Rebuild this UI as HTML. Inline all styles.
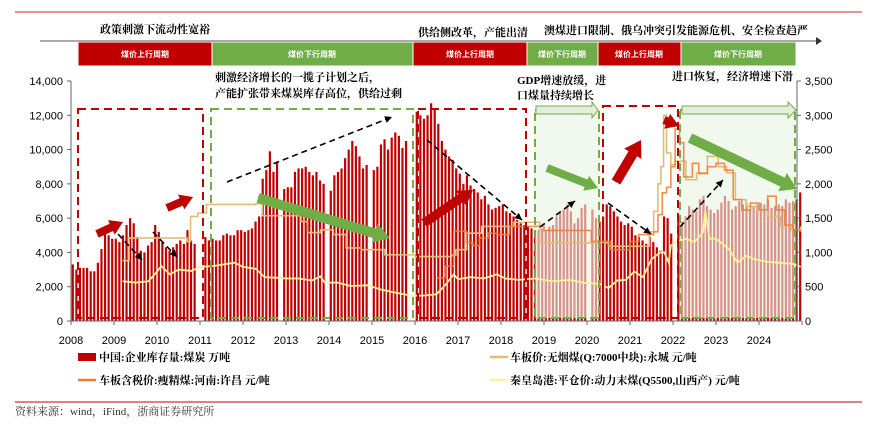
<!DOCTYPE html>
<html><head><meta charset="utf-8"><style>
body{margin:0;background:#fff;}
svg text{font-family:"Liberation Sans","Noto Sans CJK SC",sans-serif;}
.cn{font-family:"Liberation Serif","Noto Serif CJK SC",serif;font-weight:bold;font-size:11px;fill:#000;}
.tk{font-size:11px;fill:#000;}
</style></head><body>
<svg id="chart" width="870" height="419" viewBox="0 0 870 419" xmlns="http://www.w3.org/2000/svg">
<line x1="15" y1="12" x2="862" y2="12" stroke="#E05050" stroke-width="1.2"/>
<g>
<line x1="40" y1="41" x2="816" y2="41" stroke="#555" stroke-width="1"/>
<polygon points="816,37 822,41 816,45" fill="#333"/>
<rect x="78" y="42" width="134" height="24" fill="#C00000" stroke="#fff"/>
<rect x="212" y="42" width="201" height="24" fill="#70AD47" stroke="#fff"/>
<rect x="413" y="42" width="114" height="24" fill="#C00000" stroke="#fff"/>
<rect x="527" y="42" width="71" height="24" fill="#70AD47" stroke="#fff"/>
<rect x="598" y="42" width="83" height="24" fill="#C00000" stroke="#fff"/>
<rect x="681" y="42" width="115" height="24" fill="#70AD47" stroke="#fff"/>
<g font-size="8" fill="#fff" text-anchor="middle" font-weight="bold">
<text x="145" y="57">煤价上行周期</text><text x="312" y="57">煤价下行周期</text><text x="470" y="57">煤价上行周期</text><text x="562" y="57">煤价下行周期</text><text x="639" y="57">煤价上行周期</text><text x="738" y="57">煤价下行周期</text>
</g>
<text class="cn" x="100" y="33">政策刺激下流动性宽裕</text>
<text class="cn" x="418" y="36">供给侧改革，产能出清</text>
<text class="cn" x="544" y="34">澳煤进口限制、俄乌冲突引发能源危机、安全检查趋严</text>
</g>
<text class="cn" x="215" y="81">刺激经济增长的一揽子计划之后，</text>
<text class="cn" x="215" y="97">产能扩张带来煤炭库存高位，供给过剩</text>
<text class="cn" x="517" y="84">GDP增速放缓，进</text>
<text class="cn" x="517" y="99">口煤量持续增长</text>
<text class="cn" x="672" y="80">进口恢复，经济增速下滑</text>
<g id="bars"></g>
<g id="shades">
<rect x="535" y="110" width="64" height="208" fill="rgba(232,243,226,0.6)"/>
<rect x="680" y="110" width="115" height="208" fill="rgba(232,243,226,0.6)"/>
</g>
<g id="lines"></g>
<g fill="none" stroke-width="2" stroke-dasharray="8,5">
<rect x="78" y="109" width="125" height="209" stroke="#C00000"/>
<rect x="211" y="109" width="202" height="209" stroke="#70AD47"/>
<rect x="418" y="109" width="108" height="209" stroke="#C00000"/>
<rect x="535" y="110" width="64" height="208" stroke="#70AD47"/>
<rect x="603" y="106" width="75" height="212" stroke="#C00000"/>
<rect x="680" y="110" width="115" height="208" stroke="#70AD47"/>
</g>
<g fill="#E2EFDA" stroke="#70AD47" stroke-width="1">
<polygon points="536,106 592,106 592,102 598,110 592,118 592,114 536,114"/>
<polygon points="682,106 788,106 788,102 796,110 788,118 788,114 682,114"/>
</g>
<g id="arrows"></g>
<g id="axes"></g>
<g font-size="11" font-weight="bold">
<rect x="78" y="353" width="18" height="8" fill="#C00000"/>
<text x="99" y="361" class="cn">中国:企业库存量:煤炭 万吨</text>
<line x1="490" y1="357" x2="508" y2="357" stroke="#E0BC78" stroke-width="2.5"/>
<text x="510" y="361" class="cn">车板价:无烟煤(Q:7000中块):永城 元/吨</text>
<line x1="78" y1="380" x2="96" y2="380" stroke="#ED7D31" stroke-width="2.5"/>
<text x="99" y="384" class="cn">车板含税价:瘦精煤:河南:许昌 元/吨</text>
<line x1="490" y1="380" x2="508" y2="380" stroke="#FFF09A" stroke-width="2.5"/>
<text x="510" y="384" class="cn">秦皇岛港:平仓价:动力末煤(Q5500,山西产) 元/吨</text>
</g>
<line x1="15" y1="402" x2="862" y2="402" stroke="#C00000" stroke-width="1"/>
<text x="15" y="415" font-size="11" fill="#333" style="font-family:'Liberation Serif','Noto Serif CJK SC',serif">资料来源：wind，iFind，浙商证券研究所</text>
</svg>
<script>
const years=[2008,2009,2010,2011,2012,2013,2014,2015,2016,2017,2018,2019,2020,2021,2022,2023,2024];
const inventory=[
[3300,3000,3100,3100,3100,2900,2900,3400,4200,5300,5000,4800],
[4800,4600,5000,5600,6000,5700,4900,4100,4000,4400,4600,5600],
[5200,4600,4300,4100,4300,4500,4700,4500,5300,4700,4500,0],
[0,4900,4700,4800,4700,4700,5000,5100,5000,5000,5300,5300],
[5200,5300,5400,5800,6100,8300,8800,9900,8700,9300,0,7700],
[7800,7800,8700,8900,8900,9000,8700,8500,8700,8200,8000,0],
[7600,8500,8700,8900,9500,10000,10500,10200,9600,8900,9100,0],
[8800,9000,10300,10600,10000,10700,11000,10800,10100,10500,0,0],
[12200,12000,11800,12000,12700,12400,11500,10500,10000,9600,9400,8900],
[8600,8000,8500,7900,7700,7500,7100,7300,6800,6500,6600,6700],
[6800,6400,6300,6100,5900,5700,5600,5500,5400,5300,5300,5400],
[5300,5500,5600,6100,6300,6500,6800,6400,5700,6000,6600,6800],
[0,6500,6000,5800,6100,6800,6700,6400,6100,5800,5600,5700],
[5500,5000,4900,4700,4500,4900,4600,4300,4100,6100,6000,5100],
[0,6100,5800,6100,6700,6500,6400,7100,7300,6700,6500,6300],
[6500,6900,7300,7000,6500,6700,7000,6800,6900,6500,6700,6800],
[6900,6800,7100,6600,6700,6800,6700,7100,6900,7000,7100,7500]];
const anthDates=[2009.2,2009.35,2010.7,2010.78,2010.95,2011.15,2012.3,2012.45,2013.2,2013.35,2013.5,2013.8,2014.1,2014.4,2014.75,2015.3,2016.0,2016.85,2016.95,2017.2,2017.55,2018.3,2018.9,2020.5,2021.45,2021.55,2021.65,2021.72,2021.78,2021.85,2021.95,2022.05,2022.3,2022.55,2022.8,2023.05,2023.25,2023.45,2023.7,2023.95,2024.2,2024.5,2024.75,2024.97];
const anthValues=[880,1210,1160,1525,1575,1700,1710,1535,1535,1450,1290,1330,1260,1065,1040,965,940,960,1040,1280,1380,1440,1140,1090,1300,1600,2000,2250,3000,2450,2280,2330,2060,2160,2400,2250,2160,1770,1670,1620,1525,1380,1330,1380];
const leanDates=[2016.5,2016.7,2016.9,2017.2,2017.35,2017.5,2017.7,2017.9,2018.2,2018.6,2019.0,2019.9,2020.1,2020.55,2021.0,2021.2,2021.55,2021.65,2021.75,2021.85,2021.95,2022.05,2022.15,2022.25,2022.45,2022.6,2022.8,2023.0,2023.2,2023.4,2023.6,2023.8,2024.0,2024.2,2024.4,2024.6,2024.8,2024.97];
const leanValues=[630,800,1310,1140,1100,1210,1280,1260,1380,1380,1320,1320,1160,1040,1160,1260,1300,1550,1870,1950,2250,2800,2600,2100,2300,2150,2250,2300,2200,1770,1620,1720,1620,1820,1620,1400,1320,1300];
const qhdDates=[2009.2,2009.5,2009.8,2010.0,2010.1,2010.3,2010.5,2010.8,2011.0,2011.3,2011.5,2011.8,2012.0,2012.3,2012.5,2012.8,2013.0,2013.3,2013.6,2013.8,2013.9,2014.2,2014.5,2014.9,2015.2,2015.5,2015.9,2016.2,2016.5,2016.7,2016.9,2017.0,2017.3,2017.6,2017.9,2018.1,2018.4,2018.8,2019.2,2019.6,2019.9,2020.3,2020.5,2020.7,2020.9,2021.1,2021.3,2021.5,2021.7,2021.8,2021.9,2021.95,2022.05,2022.3,2022.5,2022.7,2022.75,2022.85,2023.0,2023.3,2023.5,2023.7,2023.9,2024.2,2024.5,2024.8,2024.97];
const qhdValues=[580,560,580,720,800,680,750,730,790,800,820,850,790,760,640,630,620,620,590,650,560,560,510,520,460,420,370,370,390,520,680,610,640,620,680,620,600,620,580,600,560,540,480,590,600,720,640,900,1000,1000,850,1100,1150,1200,1150,1300,1600,1200,1200,1050,850,950,900,860,850,830,790];
const leftTicks=[0,2000,4000,6000,8000,10000,12000,14000];
const rightTicks=[0,500,1000,1500,2000,2500,3000,3500];
const xTickYears=[2008,2009,2010,2011,2012,2013,2014,2015,2016,2017,2018,2019,2020,2021,2022,2023,2024];

const NS="http://www.w3.org/2000/svg";
const X=t=>71+(t-2008)*43;
const Y=v=>321-v/14000*240;
const YR=v=>321-v/3500*240;
function mk(tag,attrs,parent){const e=document.createElementNS(NS,tag);for(const k in attrs)e.setAttribute(k,attrs[k]);parent.appendChild(e);return e;}

const bars=document.getElementById('bars');
years.forEach((yr,i)=>{inventory[i].forEach((v,m)=>{
 if(!v)return;
 const xc=X(yr+(m+0.5)/12);
 const r=mk('rect',{x:xc-1.1,y:Y(v),width:2.2,height:321-Y(v),fill:'#C00000'},bars);
 
 
});});

const lines=document.getElementById('lines');
function stepPath(d,v,yf){let s='';for(let i=0;i<d.length;i++){const x=X(d[i]),y=yf(v[i]);if(i===0)s+='M'+x+','+y;else s+='H'+x+'V'+y;}return s;}
function linePath(d,v,yf){return d.map((t,i)=>(i?'L':'M')+X(t)+','+yf(v[i])).join('');}
const pq=mk('path',{d:linePath(qhdDates,qhdValues,YR),fill:'none',stroke:'#FFF09A','stroke-width':1.8},lines);


const pa=mk('path',{d:stepPath(anthDates,anthValues,YR),fill:'none',stroke:'#E0BC78','stroke-width':1.6},lines);


const pl=mk('path',{d:stepPath(leanDates,leanValues,YR),fill:'none',stroke:'#ED7D31','stroke-width':1.6,'stroke-opacity':0.85},lines);



const arrows=document.getElementById('arrows');
function fat(x1,y1,x2,y2,w,col,name){
 const dx=x2-x1,dy=y2-y1,L=Math.hypot(dx,dy),ux=dx/L,uy=dy/L,nx=-uy,ny=ux,h=w*1.6,bx=x2-ux*h,by=y2-uy*h;
 const p=[[x1+nx*w/2,y1+ny*w/2],[bx+nx*w/2,by+ny*w/2],[bx+nx*w,by+ny*w],[x2,y2],[bx-nx*w,by-ny*w],[bx-nx*w/2,by-ny*w/2],[x1-nx*w/2,y1-ny*w/2]];
 const e=mk('polygon',{points:p.map(q=>q.join(',')).join(' '),fill:col},arrows);
 
 
}
function dash(x1,y1,x2,y2){
 const e=mk('line',{x1,y1,x2:x2,y2:y2,stroke:'#000','stroke-width':1.6,'stroke-dasharray':'6,4'},arrows);
 
 
 const dx=x2-x1,dy=y2-y1,L=Math.hypot(dx,dy),ux=dx/L,uy=dy/L;
 mk('polygon',{points:`${x2},${y2} ${x2-ux*7-uy*3.5},${y2-uy*7+ux*3.5} ${x2-ux*7+uy*3.5},${y2-uy*7-ux*3.5}`,fill:'#000'},arrows);
}
fat(97,234,123,222,8,'#C00000','red-arrow-1');
fat(167,208,193,197,8,'#C00000','red-arrow-2');
fat(424,223,473,190,9,'#C00000','red-arrow-3');
fat(616,182,641,140,10,'#C00000','red-arrow-4');
fat(664,120,679,126,8,'#C00000','red-arrow-5');
fat(258,198,390,238,10,'#70AD47','green-arrow-1');
fat(547,168,598,188,8,'#70AD47','green-arrow-2');
fat(690,138,797,189,10,'#70AD47','green-arrow-3');
dash(118,234,142,260);dash(153,232,177,257);dash(227,182,392,117);
dash(427,140,522,220);dash(540,227,575,201);dash(608,203,651,234);dash(680,227,723,180);

const axes=document.getElementById('axes');
mk('line',{x1:71,y1:81,x2:71,y2:321,stroke:'#666'},axes);
mk('line',{x1:797,y1:81,x2:797,y2:321,stroke:'#666'},axes);
mk('line',{x1:71,y1:321,x2:797,y2:321,stroke:'#666'},axes);
leftTicks.forEach(v=>{mk('line',{x1:67,y1:Y(v),x2:71,y2:Y(v),stroke:'#666'},axes);
 const t=mk('text',{x:63,y:Y(v)+4,'text-anchor':'end',class:'tk'},axes);t.textContent=v.toLocaleString('en-US');
 
 });
rightTicks.forEach(v=>{mk('line',{x1:797,y1:YR(v),x2:801,y2:YR(v),stroke:'#666'},axes);
 const t=mk('text',{x:805,y:YR(v)+4,class:'tk'},axes);t.textContent=v.toLocaleString('en-US');
 
 });
xTickYears.forEach(y=>{mk('line',{x1:X(y),y1:321,x2:X(y),y2:325,stroke:'#666'},axes);
 const t=mk('text',{x:X(y),y:344,'text-anchor':'middle',class:'tk'},axes);t.textContent=y;
 
 });
mk('line',{x1:X(2025),y1:321,x2:X(2025),y2:325,stroke:'#666'},axes);
</script>
</body></html>
